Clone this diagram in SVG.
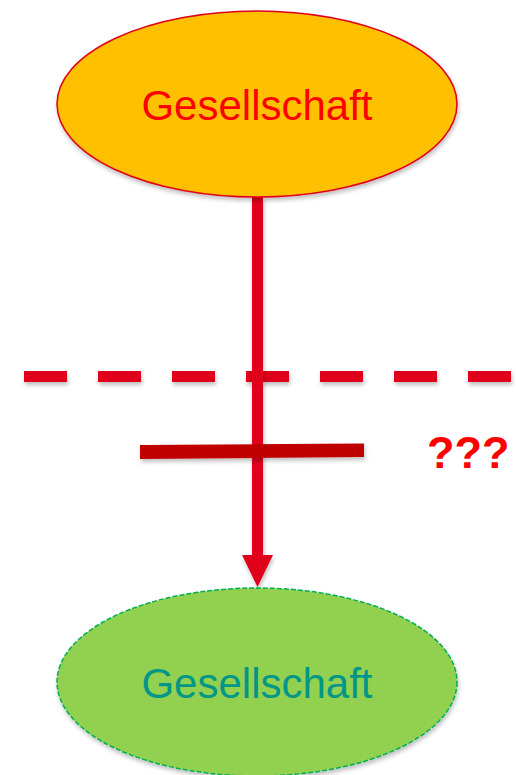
<svg xmlns="http://www.w3.org/2000/svg" width="516" height="775" viewBox="0 0 516 775">
  <defs>
    <filter id="sh" filterUnits="userSpaceOnUse" x="0" y="0" width="516" height="775">
      <feDropShadow dx="1" dy="3" stdDeviation="2" flood-color="#000" flood-opacity="0.25"/>
    </filter>
  </defs>
  <style>
    .lbl { font-family: "Liberation Sans", Arial, sans-serif; font-size: 42px; text-anchor: middle; }
  </style>
  <rect width="516" height="775" fill="#fff"/>
  <g id="connectors">
    <line x1="24" y1="376.5" x2="516" y2="376.5" stroke="#E0001B" stroke-width="11" stroke-dasharray="43 31" filter="url(#sh)"/>
    <g filter="url(#sh)">
      <line x1="257.5" y1="196" x2="257.5" y2="556" stroke="#E0001B" stroke-width="11"/>
      <polygon points="242,555 273,555 257.5,587" fill="#E0001B"/>
    </g>
    <polygon points="140,445 364,443.5 364,457 140,459" fill="#C00000" filter="url(#sh)"/>
  </g>
  <g id="node-top">
    <ellipse cx="257" cy="104" rx="200" ry="93" fill="#FFC000" stroke="#E0001B" stroke-width="1.5" filter="url(#sh)"/>
    <text class="lbl" x="257" y="120" fill="#FF0000">Gesellschaft</text>
  </g>
  <g id="node-bottom">
    <ellipse cx="257" cy="682" rx="200" ry="94" fill="#92D050" stroke="#00B050" stroke-width="1.5" stroke-dasharray="5 2" filter="url(#sh)"/>
    <text class="lbl" x="257" y="698" fill="#009688">Gesellschaft</text>
  </g>
  <g id="label-q">
    <text x="427" y="468" font-family="Liberation Sans, Arial, sans-serif" font-size="45" font-weight="bold" fill="#FF0000">???</text>
  </g>
</svg>
